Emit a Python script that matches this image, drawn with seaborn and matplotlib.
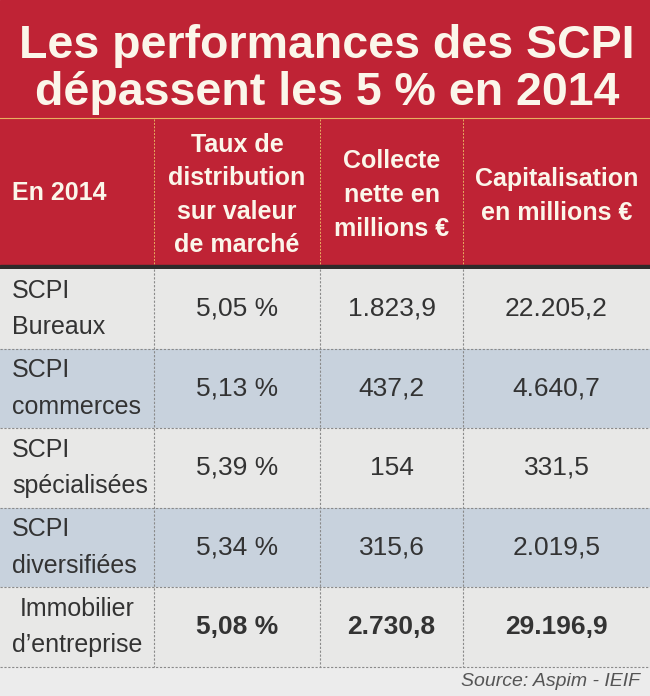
import numpy as np
import pandas as pd
import matplotlib
matplotlib.use("Agg")
import matplotlib.pyplot as plt
from matplotlib.colors import ListedColormap
from matplotlib.patches import Rectangle
import seaborn as sns

# données du tableau
categories = ["SCPI\nBureaux", "SCPI\ncommerces", "SCPI\nspécialisées",
              "SCPI\ndiversifiées", "Immobilier\nd’entreprise"]
taux = [5.05, 5.13, 5.39, 5.34, 5.08]
collecte = [1823.9, 437.2, 154, 315.6, 2730.8]
capitalisation = [22205.2, 4640.7, 331.5, 2019.5, 29196.9]
headers = ["En 2014", "Taux de\ndistribution\nsur valeur\nde marché",
           "Collecte\nnette en\nmillions €", "Capitalisation\nen millions €"]
shade = [0, 1, 0, 1, 0]

RED = "#bf2335"
HEAD_TXT = "#fbf6ea"
BODY_TXT = "#333333"
FONT = ["Liberation Sans", "DejaVu Sans"]


def fr(v, dec=1):
    # format français : 22.205,2 (les entiers restent sans décimale)
    if float(v).is_integer() and dec == 1:
        s = f"{int(v):,}"
    else:
        s = f"{v:,.{dec}f}"
    return s.replace(",", "X").replace(".", ",").replace("X", ".")


df = pd.DataFrame({
    "cat": categories,
    "taux": [fr(v, 2) + " %" for v in taux],
    "collecte": [fr(v) for v in collecte],
    "cap": [fr(v) for v in capitalisation],
})

W, H = 650, 696
fig = plt.figure(figsize=(W / 100, H / 100), dpi=100)
fig.patch.set_facecolor("#ececec")

# fond : titre + en-tête
bg = fig.add_axes([0, 0, 1, 1])
bg.set_xlim(0, W)
bg.set_ylim(H, 0)
bg.axis("off")
bg.add_patch(Rectangle((0, 0), W, 266, color=RED, zorder=0))
bg.plot([0, W], [118, 118], color="#e8b060", lw=0.8, zorder=1)
bg.add_patch(Rectangle((0, 265), W, 4, color="#2e2a2a", zorder=2))

for y, line in [(46, "Les performances des SCPI"), (93, "dépassent les 5 % en 2014")]:
    bg.text(W / 2 + 2, y, line, ha="center", va="center", fontsize=33.5,
            fontweight="bold", color=HEAD_TXT, family=FONT)

col_edges = [0, 154, 320, 463, W]
for x in col_edges[1:-1]:
    bg.plot([x, x], [119, 265], color="#e8b060", lw=0.7, ls=(0, (2, 1.5)), zorder=1)

bg.text(12, 193, headers[0], ha="left", va="center", fontsize=18,
        fontweight="bold", color=HEAD_TXT, family=FONT)
head_y = [195, 195, 196]
for i, h in enumerate(headers[1:]):
    cx = (col_edges[i + 1] + col_edges[i + 2]) / 2
    bg.text(cx, head_y[i], h, ha="center", va="center", fontsize=18,
            fontweight="bold", color=HEAD_TXT, family=FONT,
            linespacing=1.5)

# corps du tableau : une heatmap par colonne
top, bottom = 269, 667
cmap = ListedColormap(["#e8e8e7", "#c8d2dd"])
mat = np.array(shade).reshape(-1, 1)
cols = [None, "taux", "collecte", "cap"]
for j in range(4):
    x0, x1 = col_edges[j], col_edges[j + 1]
    ax = fig.add_axes([x0 / W, 1 - bottom / H, (x1 - x0) / W, (bottom - top) / H])
    annot = df[cols[j]].to_numpy().reshape(-1, 1) if cols[j] else False
    sns.heatmap(mat, ax=ax, cmap=cmap, vmin=0, vmax=1, cbar=False,
                annot=annot, fmt="", xticklabels=False, yticklabels=False,
                annot_kws={"fontsize": 19, "color": BODY_TXT, "family": FONT})
    if cols[j]:
        ax.texts[-1].set_fontweight("bold")
    else:
        for r, lab in enumerate(categories):
            last = r == len(categories) - 1
            ax.text(0.5 if last else 12 / (x1 - x0), r + 0.5, lab,
                    ha="center" if last else "left", va="center",
                    fontsize=18, color=BODY_TXT, family=FONT,
                    linespacing=1.65)
    ax.set_xlabel("")
    ax.set_ylabel("")

# traits pointillés
ov = fig.add_axes([0, 0, 1, 1], facecolor="none")
ov.set_xlim(0, W)
ov.set_ylim(H, 0)
ov.axis("off")
row_h = (bottom - top) / 5
for k in range(1, 6):
    y = top + k * row_h
    ov.plot([0, W], [y, y], color="#8a8a8a", lw=0.8, ls=(0, (2, 1.5)))
for x in col_edges[1:-1]:
    ov.plot([x, x], [top, bottom], color="#8a8a8a", lw=0.8, ls=(0, (2, 1.5)))

ov.text(640, 681, "Source: Aspim - IEIF", ha="right", va="center",
        fontsize=14, style="italic", color="#555555", family=FONT)

fig.savefig("out.png", dpi=100, facecolor=fig.get_facecolor())
